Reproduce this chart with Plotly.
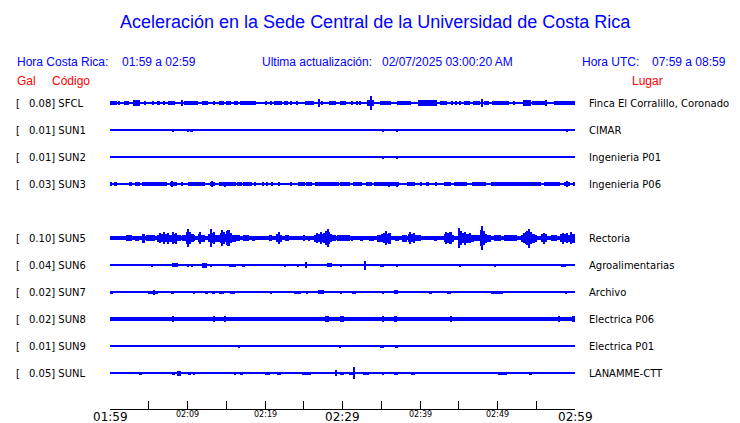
import plotly.graph_objects as go

# ---------------- data ----------------
codes = ["SFCL", "SUN1", "SUN2", "SUN3", "SUN5", "SUN6", "SUN7", "SUN8", "SUN9", "SUNL"]
rows = [0, 1, 2, 3, 5, 6, 7, 8, 9, 10]
gal_max = ["0.08", "0.01", "0.01", "0.03", "0.10", "0.04", "0.02", "0.02", "0.01", "0.05"]
places = ["Finca El Corralillo, Coronado", "CIMAR", "Ingenieria P01", "Ingenieria P06",
          "Rectoria", "Agroalimentarias", "Archivo", "Electrica P06", "Electrica P01",
          "LANAMME-CTT"]
# background (noise) half amplitude of each trace, in pixels of trace height
noise_amp = [0.8, 0.6, 0.6, 0.7, 2.1, 0.6, 0.6, 2.0, 0.6, 0.6]

# bursts: (start minute, end minute, half amplitude in px), minutes after 01:59
bursts_SFCL = [(0.0, 0.86, 2.3), (1.1, 1.25, 1.8), (1.85, 2.45, 2.3), (3.0, 3.9, 2.6), (3.4, 3.55, 3),
               (4.45, 4.6, 1.8), (5.4, 5.7, 1.8), (6.0, 6.5, 2.3), (6.8, 7.1, 1.8), (7.5, 8.4, 2.3),
               (9.25, 9.4, 3), (9.5, 11.4, 2.3), (11.9, 12.7, 2.3), (13.35, 13.5, 1.8), (14.0, 14.7, 2.3),
               (15.0, 15.6, 2.3), (16.0, 16.5, 2.3), (16.8, 18.8, 2.3), (20.0, 20.3, 1.8), (20.6, 20.9, 2.3),
               (21.2, 22.2, 2.3), (22.4, 23.0, 2.3), (23.25, 23.4, 1.8), (24.05, 24.2, 1.8), (25.1, 26.3, 2.3),
               (26.85, 27.0, 4), (27.35, 27.5, 1.8), (28.2, 29.1, 2.3), (29.7, 30.4, 2.3), (31.15, 31.3, 1.8),
               (31.75, 31.9, 1.8), (32.25, 32.4, 1.8), (33.1, 34.0, 2.6), (33.65, 33.8, 7), (34.9, 36.2, 2.3),
               (37.0, 38.8, 2.3), (39.7, 42.2, 2.6), (42.6, 43.5, 2.3), (44.0, 44.15, 1.8), (44.55, 44.7, 1.8),
               (45.05, 45.2, 1.8), (45.7, 46.5, 1.8), (46.9, 47.8, 2.3), (47.95, 48.1, 4), (48.2, 48.9, 2.3),
               (49.3, 51.5, 2.3), (52.05, 52.2, 1.8), (53.3, 54.3, 2.6), (54.5, 56.2, 2.3), (56.25, 56.4, 3),
               (57.3, 60.0, 2.3)]
bursts_SUN1 = [(8.05, 8.2, 1.5), (10.05, 10.2, 1.5), (10.45, 10.65, 1.5), (15.35, 15.5, 1),
               (26.85, 27.0, 1), (35.1, 35.3, 1.5), (36.15, 36.3, 1), (36.95, 37.15, 1.5),
               (58.85, 59.0, 1.5)]
bursts_SUN2 = [(35.1, 35.3, 1.5), (36.95, 37.1, 1.5), (58.65, 58.8, 1)]
bursts_SUN3 = [(0.05, 0.2, 2), (0.6, 0.7, 2), (0.8, 0.9, 2), (2.45, 2.8, 2), (3.2, 3.9, 2),
               (4.1, 7.3, 2), (7.8, 8.6, 2), (7.95, 8.15, 3), (9.25, 9.4, 2), (10.0, 12.3, 2),
               (12.9, 13.6, 2), (13.1, 13.3, 3), (14.0, 16.2, 2), (14.75, 14.9, 2.5), (16.4, 17.0, 2),
               (17.2, 18.3, 2), (18.65, 18.8, 2), (19.65, 19.8, 2), (20.25, 20.4, 2),
               (20.85, 21.0, 2), (21.75, 21.9, 2), (23.3, 23.5, 2), (24.3, 25.2, 2),
               (25.35, 25.5, 2), (25.6, 26.1, 2), (26.4, 29.5, 2), (29.7, 31.0, 2),
               (31.4, 32.5, 2), (33.0, 33.8, 2), (34.0, 37.3, 2), (35.9, 36.1, 2.5),
               (36.95, 37.15, 2.5), (38.3, 39.4, 2), (40.05, 40.2, 2), (40.9, 41.1, 2),
               (41.95, 42.1, 2), (43.1, 44.0, 2), (44.4, 46.1, 2), (46.7, 48.5, 2),
               (49.1, 55.6, 2), (56.0, 58.1, 2), (58.6, 59.4, 2), (58.95, 59.15, 3),
               (59.7, 60.0, 2)]
bursts_SUN5 = [(2.1, 2.8, 3), (3.2, 3.7, 2.5), (4.1, 4.5, 4.5), (4.7, 5.8, 3),
               (6.0, 6.4, 3.5), (6.4, 6.6, 5), (6.6, 6.9, 4), (6.9, 7.1, 6), (7.1, 7.4, 4),
               (7.4, 7.6, 5.5), (7.6, 8.0, 3.5), (8.0, 8.2, 6), (8.2, 8.5, 4.5), (8.5, 8.7, 5.5),
               (8.7, 9.1, 3), (9.3, 9.9, 3), (9.9, 10.05, 6), (10.05, 10.2, 9), (10.2, 10.5, 6),
               (10.5, 10.8, 4), (10.8, 11.0, 3), (11.4, 11.6, 4), (11.6, 11.75, 6), (11.75, 12.3, 3.5),
               (12.7, 12.95, 4), (12.95, 13.1, 9), (13.1, 13.35, 5), (13.35, 13.6, 6), (13.6, 14.2, 3.5),
               (14.2, 14.4, 5), (14.4, 14.6, 8), (14.6, 14.85, 6), (14.85, 15.0, 4), (15.0, 15.2, 7),
               (15.2, 15.45, 8), (15.45, 15.8, 5), (15.8, 16.2, 3.5), (16.2, 16.8, 3), (17.2, 17.9, 3),
               (18.3, 18.7, 2.5), (20.5, 20.9, 3), (21.5, 21.7, 4), (21.7, 21.9, 6), (21.9, 22.2, 3.5),
               (22.6, 23.1, 3), (25.0, 25.2, 3), (25.6, 25.75, 2.5), (26.3, 26.6, 3.5), (26.6, 26.8, 5),
               (26.8, 27.1, 4), (27.1, 27.3, 6), (27.3, 27.6, 4), (27.6, 27.8, 5), (27.8, 28.0, 7),
               (28.0, 28.15, 9), (28.15, 28.4, 6), (28.4, 28.7, 4), (28.7, 29.1, 3), (29.3, 31.0, 3),
               (31.2, 31.4, 2.5), (32.3, 32.7, 2.5), (33.4, 34.0, 2.5), (34.5, 35.0, 3.5),
               (35.0, 35.3, 4), (35.3, 35.5, 5), (35.5, 35.7, 7), (35.7, 35.9, 4.5), (35.9, 36.2, 5.5),
               (36.8, 37.3, 2.5), (37.7, 38.3, 3.5), (38.5, 38.7, 4), (38.7, 38.9, 6), (38.9, 39.1, 4),
               (39.1, 39.4, 5), (39.4, 40.1, 3), (41.8, 42.2, 2.5), (43.1, 43.3, 4), (43.3, 43.5, 6),
               (43.5, 43.8, 5), (43.8, 44.1, 6), (44.1, 44.4, 3.5), (45.0, 45.2, 10), (45.2, 45.4, 7),
               (45.4, 45.7, 5), (45.7, 45.9, 6.5), (45.9, 46.3, 4.5), (46.3, 46.6, 5), (46.6, 47.0, 3.5),
               (47.0, 47.8, 3), (47.8, 47.95, 8), (47.95, 48.15, 12), (48.15, 48.4, 7), (48.4, 48.7, 4.5),
               (48.7, 49.1, 3.5), (49.5, 50.4, 3), (50.8, 52.5, 3), (53.0, 53.3, 3.5), (53.3, 53.6, 5),
               (53.6, 53.8, 6), (53.8, 54.0, 7), (54.0, 54.15, 9.5), (54.15, 54.4, 6), (54.4, 54.8, 4.5),
               (54.8, 55.1, 3.5), (55.6, 55.9, 4), (55.9, 56.1, 5.5), (56.1, 56.4, 4), (56.9, 57.7, 3),
               (58.1, 58.4, 4), (58.4, 58.6, 5.5), (58.6, 58.9, 4), (58.9, 59.1, 5), (59.1, 59.4, 3.5),
               (59.4, 59.6, 6), (59.6, 60.0, 4.5)]
bursts_SUN6 = [(5.35, 5.5, 1.5), (6.2, 6.35, 1), (6.95, 7.1, 1), (7.95, 8.8, 2), (10.05, 10.2, 1.5),
               (10.5, 10.65, 1.5), (11.85, 12.5, 2.5), (12.9, 13.2, 1.5), (13.95, 14.1, 1),
               (14.6, 14.75, 1), (15.35, 16.2, 1.5), (17.0, 17.4, 1.5), (22.55, 22.7, 1.5),
               (24.1, 24.4, 1.5), (25.25, 25.4, 3), (28.0, 28.6, 2), (29.7, 29.85, 1.5),
               (32.9, 33.05, 4.5), (34.9, 35.3, 1.5), (36.05, 36.2, 1), (36.95, 37.1, 1.5),
               (45.05, 45.2, 1.5), (48.15, 48.3, 1), (49.6, 49.8, 1.5), (51.75, 51.9, 1),
               (54.25, 54.4, 1), (58.2, 58.8, 1.5)]
bursts_SUN7 = [(0.0, 0.4, 1.5), (1.05, 1.2, 1), (1.4, 1.55, 1), (2.3, 2.45, 1), (2.8, 2.95, 1),
               (3.35, 3.5, 1), (3.65, 3.8, 1), (4.6, 4.75, 1), (4.95, 5.8, 1.5), (5.55, 5.7, 2.5),
               (5.8, 6.2, 1.5), (7.95, 8.2, 1.5), (10.65, 11.0, 1.5), (12.3, 12.7, 1.5), (13.1, 13.6, 1.5),
               (14.0, 14.75, 1.5), (15.5, 16.1, 1.5), (16.95, 17.1, 1), (20.7, 20.9, 1.5), (23.7, 24.6, 1.5),
               (25.4, 25.6, 1.5), (26.9, 27.6, 2), (28.2, 28.35, 1), (29.7, 29.85, 1.5), (31.2, 31.7, 1.5),
               (35.1, 35.3, 1.5), (36.05, 36.2, 1), (36.7, 37.1, 2), (40.3, 40.45, 1), (41.1, 41.6, 1.5),
               (42.0, 42.15, 1), (43.5, 44.0, 1.5), (44.4, 44.6, 1), (48.0, 48.15, 1), (48.65, 48.8, 1),
               (49.2, 50.7, 1.5), (53.3, 53.45, 1), (54.65, 54.8, 1), (55.0, 55.15, 1), (57.9, 58.05, 1),
               (58.8, 59.0, 1.5), (59.85, 60.0, 1)]
bursts_SUN8 = [(0.0, 1.1, 2.3), (8.1, 8.3, 2.8), (10.05, 10.2, 2.4), (13.35, 13.6, 2.8), (14.75, 14.9, 2.8),
               (17.55, 17.7, 2.4), (22.95, 23.1, 2.4), (27.8, 28.2, 2.8), (29.7, 30.2, 2.8), (35.1, 35.3, 3.2),
               (36.15, 36.3, 2.4), (36.7, 37.0, 3.2), (38.75, 38.9, 2.4), (42.2, 42.35, 2.4), (43.25, 43.4, 2.4),
               (43.9, 44.1, 2.8), (48.15, 48.3, 2.4), (54.0, 54.7, 2.4), (56.35, 56.5, 2.4), (57.9, 58.1, 2.8),
               (58.8, 58.95, 2.4), (59.6, 60.0, 2.8)]
bursts_SUN9 = [(8.05, 8.2, 1), (15.45, 15.6, 1), (16.55, 16.7, 1.5), (29.5, 29.8, 1.5), (34.8, 35.3, 1.5),
               (36.8, 37.1, 1.5), (44.0, 44.15, 1), (58.85, 59.0, 1)]
bursts_SUNL = [(3.7, 4.1, 1.5), (5.35, 5.5, 1), (5.8, 5.95, 1), (6.25, 6.4, 1), (7.0, 7.15, 1),
               (7.95, 8.4, 1.5), (8.6, 9.1, 2.5), (9.45, 9.6, 1), (10.0, 10.4, 1.5), (10.65, 11.0, 1.5),
               (11.85, 12.0, 1), (12.55, 12.7, 1), (14.6, 14.75, 1), (15.45, 15.6, 1), (16.0, 16.2, 1.5),
               (16.9, 17.1, 1.5), (17.75, 17.9, 1), (20.0, 20.6, 1.5), (21.05, 21.2, 1), (21.6, 22.0, 1.5),
               (24.8, 25.9, 1.5), (28.3, 28.45, 1), (29.05, 29.2, 3), (29.7, 30.2, 1.5), (30.8, 31.6, 1.5),
               (31.4, 31.6, 6), (32.35, 32.5, 1), (32.6, 33.4, 1.5), (35.2, 35.35, 1.5), (36.6, 37.1, 1.5),
               (38.8, 39.3, 1.5), (46.15, 46.3, 1), (47.7, 47.85, 1), (50.0, 51.2, 1.5), (54.0, 54.5, 1.5),
               (57.25, 57.4, 1), (58.75, 58.9, 1)]
all_bursts = [bursts_SFCL, bursts_SUN1, bursts_SUN2, bursts_SUN3, bursts_SUN5,
              bursts_SUN6, bursts_SUN7, bursts_SUN8, bursts_SUN9, bursts_SUNL]

tick_minutes = list(range(0, 61, 5))
major_ticks = [0, 30, 60]
major_labels = ["01:59", "02:29", "02:59"]
minor_ticks = [10, 20, 40, 50]
minor_labels = ["02:09", "02:19", "02:39", "02:49"]

# ---------------- layout geometry ----------------
W, H = 740, 423
L, R, T, B = 110, 575, 90, 409
ROW0 = 103.0
PX_PER_ROW = 27.0
y_top = (ROW0 - T) / PX_PER_ROW
y_bot = -(B - ROW0) / PX_PER_ROW
BLUE = "#0000ff"
RED = "#ff0000"

fig = go.Figure()
for code, row, noise, bl in zip(codes, rows, noise_amp, all_bursts):
    yc = -row
    starts = [0] + [a for a, _, _ in bl]
    ws = [60] + [b - a for a, b, _ in bl]
    amps = [noise] + [amp for _, _, amp in bl]
    fig.add_trace(go.Bar(
        x=starts, width=ws, offset=0,
        base=[yc - a / PX_PER_ROW for a in amps],
        y=[2 * a / PX_PER_ROW for a in amps],
        marker=dict(color=BLUE, line=dict(width=0)),
        hoverinfo="skip", showlegend=False, name=code))


def px2x(px):
    return (px - L) / (R - L)


def px2y(py):
    return (B - py) / (B - T)


ann = []


def add_text(text, px, py, color="black", size=10, family="DejaVu Sans", anchor="left"):
    ann.append(dict(text=text, x=px2x(px), y=px2y(py), xref="paper", yref="paper",
                    xanchor=anchor, yanchor="middle", showarrow=False,
                    font=dict(color=color, size=size, family=family)))


add_text("Aceleración en la Sede Central de la Universidad de Costa Rica", 375, 22.5, BLUE, 18,
         "Liberation Sans", "center")
add_text("Hora Costa Rica:", 15, 61.5, BLUE, 12, "Liberation Sans")
add_text("01:59 a 02:59", 120, 61.5, BLUE, 12, "Liberation Sans")
add_text("Ultima actualización:", 260, 61.5, BLUE, 12, "Liberation Sans")
add_text("02/07/2025 03:00:20 AM", 380, 61.5, BLUE, 12, "Liberation Sans")
add_text("Hora UTC:", 580, 61.5, BLUE, 12, "Liberation Sans")
add_text("07:59 a 08:59", 650, 61.5, BLUE, 12, "Liberation Sans")
add_text("Gal", 15, 81, RED, 12, "Liberation Sans")
add_text("Código", 50, 81, RED, 12, "Liberation Sans")
add_text("Lugar", 630, 81, RED, 12, "Liberation Sans")

for code, row, g, place in zip(codes, rows, gal_max, places):
    py = ROW0 + 0.5 + PX_PER_ROW * row
    add_text("[", 14, py)
    add_text(f"{g}] {code}", 27, py)
    add_text(place, 587, py)

# time-axis labels (two sizes) placed at their tick values
for t, lab in zip(major_ticks, major_labels):
    ann.append(dict(text=lab, x=t, y=px2y(416.5), xref="x", yref="paper", xanchor="center",
                    yanchor="middle", showarrow=False,
                    font=dict(family="DejaVu Sans", size=12, color="black")))
for t, lab in zip(minor_ticks, minor_labels):
    ann.append(dict(text=lab, x=t, y=px2y(414.5), xref="x", yref="paper", xanchor="center",
                    yanchor="middle", showarrow=False,
                    font=dict(family="DejaVu Sans", size=8, color="black")))

fig.update_layout(
    width=W, height=H,
    margin=dict(l=L, r=W - R, t=T, b=H - B, pad=0, autoexpand=False),
    paper_bgcolor="white", plot_bgcolor="white",
    barmode="overlay", bargap=0,
    annotations=ann,
    xaxis=dict(range=[0, 60], showgrid=False, zeroline=False, showline=True,
               linecolor="black", linewidth=1, ticks="inside", ticklen=8,
               tickcolor="black", tickwidth=1, tickvals=tick_minutes,
               showticklabels=False, automargin=False, fixedrange=True),
    yaxis=dict(range=[y_bot, y_top], visible=False, fixedrange=True, automargin=False),
)

fig.write_html("out.html", config={"displayModeBar": False},
               post_script="document.body.style.margin='0';")
